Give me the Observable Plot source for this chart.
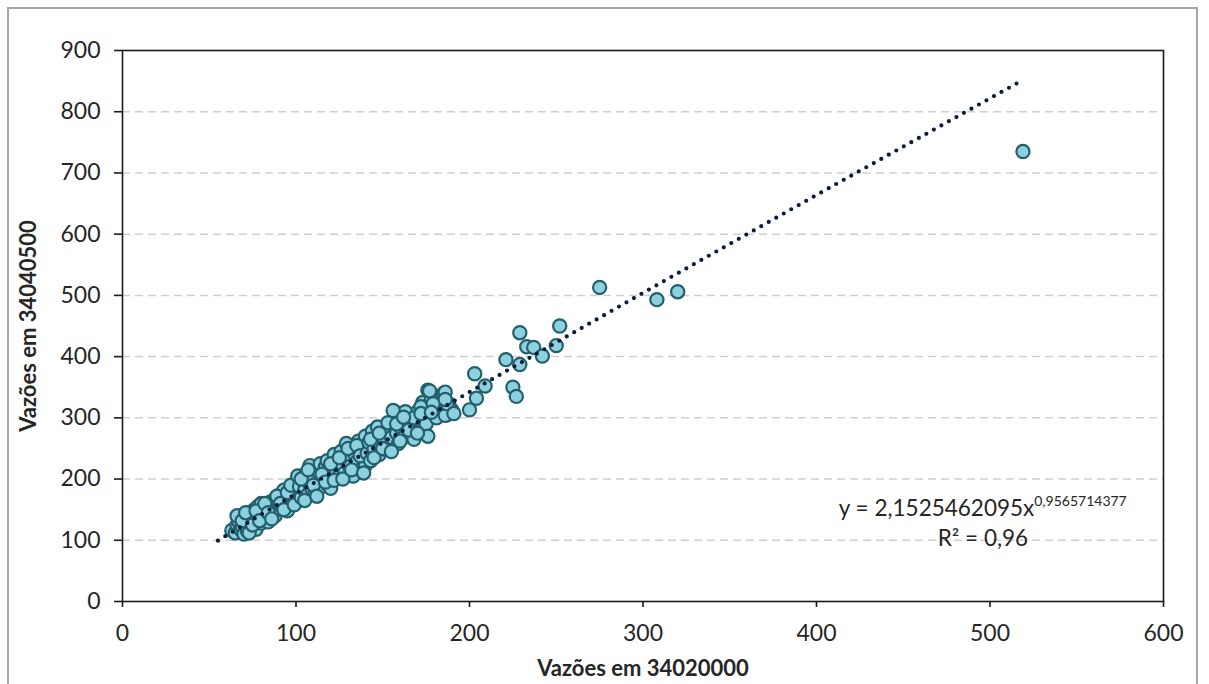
<!DOCTYPE html>
<html>
<head>
<meta charset="utf-8">
<script src="https://cdn.jsdelivr.net/npm/d3@7"></script>
<script src="https://cdn.jsdelivr.net/npm/@observablehq/plot@0.6"></script>
<style>
  html, body { margin: 0; padding: 0; background: #fff; }
  #wrap { position: relative; width: 1209px; height: 684px; overflow: hidden; }
  #border { position: absolute; left: 7px; top: 7px; width: 1191px; height: 700px; border: 2px solid #a6a6a6; box-sizing: border-box; pointer-events: none; }
  #chart { position: absolute; left: 0; top: 0; }
  svg text { font-family: Lato, "Open Sans", sans-serif; fill: #262626; }
  g[aria-label="x-axis label"] text, g[aria-label="y-axis label"] text { font-weight: bold; font-size: 22px; }
</style>
</head>
<body>
<div id="wrap"><div id="border"></div><div id="chart"></div></div>
<script>
// Flows at station 34020000 (x) and 34040500 (y)
const q34020000 = [
  63,65,66,67,68,68,69,70,70,71,72,72,73,74,74,75,76,76,77,78,78,79,80,80,81,82,83,84,85,86,87,88,88,89,90,91,92,93,94,95,96,97,98,99,100,100,
  66,69,71,73,75,77,79,82,84,86,89,91,93,95,97,99,
  101,102,103,104,105,106,107,108,108,109,110,111,112,113,114,115,116,117,118,118,119,120,121,122,123,124,125,126,127,128,129,130,131,132,133,134,135,136,137,138,139,140,140,
  103,105,107,110,112,115,117,120,122,125,127,130,132,135,137,139,
  141,142,143,144,145,146,147,148,149,150,151,152,153,155,156,157,158,159,160,161,162,163,165,166,167,168,170,171,172,173,174,175,176,176,177,178,180,181,183,185,186,187,188,190,
  143,145,148,150,153,155,158,160,163,165,168,170,172,
  177,186,179,187,191,156,162,172,178,186,
  200,204,203,209,225,227,229,221,233,237,242,229,250,252,275,308,320,519
];
const q34040500 = [
  116,112,125,130,118,138,122,110,142,128,115,135,145,120,132,140,126,150,118,136,155,143,128,160,148,138,152,130,162,145,158,140,168,150,162,175,155,182,165,148,172,160,185,168,178,195,
  140,132,145,112,125,148,132,160,145,135,172,160,150,178,190,158,
  205,188,170,198,182,210,175,192,222,185,200,178,214,195,225,188,205,220,192,230,210,185,200,240,215,228,205,245,222,210,258,235,220,248,205,240,228,262,215,250,235,270,222,
  200,165,215,190,172,208,195,225,198,235,200,250,215,255,238,210,
  242,260,230,278,250,265,285,240,255,272,262,248,280,268,290,310,275,258,300,282,268,295,305,272,288,265,310,295,280,325,300,290,345,270,310,330,318,300,325,340,342,305,323,312,
  265,235,275,250,292,245,290,262,310,280,300,275,318,
  344,304,323,323,307,312,301,307,309,330,
  313,332,372,352,350,335,439,395,416,415,401,387,418,450,513,493,506,735
];
const points = q34020000.map((x, i) => ({x, y: q34040500[i]}));

// Power trend line y = 2,1525462095·x^0,9565714377, read at a few x values
const trendX = [55, 100, 150, 200, 300, 400, 518];
const trendY = [99.4, 176.3, 259.8, 342.1, 504.1, 664.0, 850.3];
const trend = trendX.map((x, i) => ({x, y: trendY[i]}));

const xTicks = [0, 100, 200, 300, 400, 500, 600];
const yTicks = [0, 100, 200, 300, 400, 500, 600, 700, 800, 900];
const gridTicks = [100, 200, 300, 400, 500, 600, 700, 800];

const eqMain = ["y = 2,1525462095x"];
const eqExp = ["0,9565714377"];
const eqR2 = ["R² = 0,96"];
const eqX = [525.5];
const eqY = [140];
const r2X = [522];
const r2Y = [91];

const chart = Plot.plot({
  width: 1209,
  height: 684,
  marginLeft: 122,
  marginRight: 46,
  marginTop: 50,
  marginBottom: 83,
  style: {background: "transparent", fontSize: "23px"},
  x: {domain: [0, 600]},
  y: {domain: [0, 900]},
  marks: [
    Plot.gridY(gridTicks, {stroke: "#cfcfcf", strokeOpacity: 1, strokeWidth: 1.5, strokeDasharray: "8,5"}),
    Plot.dot(points, {x: "x", y: "y", r: 6.6, fill: "#8fd0e0", stroke: "#22606c", strokeWidth: 2.2}),
    Plot.line(trend, {x: "x", y: "y", stroke: "#0c1d3d", strokeWidth: 4.2, strokeDasharray: "0,8.6", strokeLinecap: "round"}),
    Plot.frame({stroke: "#1a1a1a", strokeWidth: 1.6}),
    Plot.axisX({ticks: xTicks, tickSize: 6, tickPadding: 17, stroke: "#1a1a1a", strokeWidth: 1.6, fontSize: 23,
      label: "Vazões em 34020000", labelAnchor: "center", labelArrow: "none", labelOffset: 74}),
    Plot.axisY({ticks: yTicks, tickSize: 8, tickPadding: 14, stroke: "#1a1a1a", strokeWidth: 1.6, fontSize: 23,
      label: "Vazões em 34040500", labelAnchor: "center", labelArrow: "none", labelOffset: 102}),
    Plot.text(eqMain, {x: eqX, y: eqY, text: d => d, textAnchor: "end", lineAnchor: "bottom", fontSize: 22.5, fill: "#262626"}),
    Plot.text(eqExp, {x: eqX, y: eqY, text: d => d, textAnchor: "start", lineAnchor: "bottom", dy: -10, fontSize: 14, fill: "#262626"}),
    Plot.text(eqR2, {x: r2X, y: r2Y, text: d => d, textAnchor: "end", lineAnchor: "bottom", fontSize: 22.5, fill: "#262626"})
  ]
});
document.getElementById("chart").appendChild(chart);
</script>
</body>
</html>
